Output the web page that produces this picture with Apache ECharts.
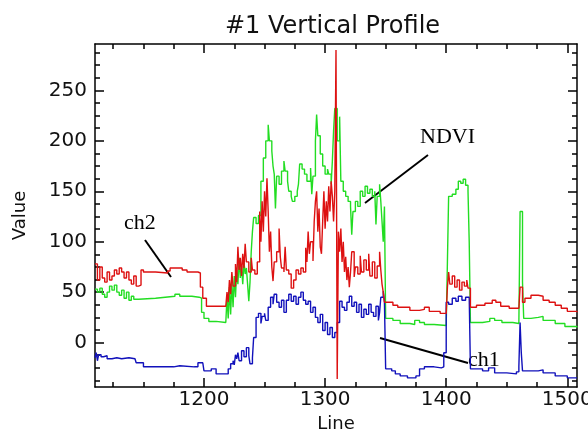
<!DOCTYPE html>
<html>
<head>
<meta charset="utf-8">
<title>#1 Vertical Profile</title>
<script src="https://cdn.jsdelivr.net/npm/echarts@6/dist/echarts.min.js"></script>
<style>
  html, body { margin: 0; padding: 0; background: #fff; }
  #chart { width: 588px; height: 429px; }
</style>
</head>
<body>
<div id="chart"></div>
<script>
// 刻度
const xMajorTicks = [1200, 1300, 1400, 1500];
const xMinorTicks = [1125, 1150, 1175, 1225, 1250, 1275, 1325, 1350, 1375, 1425, 1450, 1475];
const yMajorTicks = [0, 50, 100, 150, 200, 250];
const yMinorTicks = [-37.5, -25, -12.5, 12.5, 25, 37.5, 62.5, 75, 87.5, 112.5, 125, 137.5,
  162.5, 175, 187.5, 212.5, 225, 237.5, 262.5, 275, 287.5];

// ch2 (红)
const ch2Line = [1110,1112,1114,1116,1118,1120,1122,1124,1126,1128,1130,1132,1134,1136,1138,1140,1142,1144,1146,1148,1150,1160,1170,1172,1182,1186,1195,1197,1199,1202,
  1218,1219,1220,1221,1222,1223,1224,1226,1227,1228,1229,1230,1231,1232,1233,1234,1235,1237,1239,1240,1242,1244,1246,1247,1248,1249,1250,1251,1252,1253,1254,1255,1256,1257,1258,1260,1262,1263,1264,1266,1267,1268,1270,1272,1274,1276,1278,1280,1282,1284,1285,1286,1287,1288,1290,1291,1292,1293,1294,1295,1296,1297,1298,1299,1300,1301,1302,1303,1304,1305,1306,1307,1308,1309,1310,
  1311,1312,1313,1314,1315,1316,1317,1318,1319,1320,1321,1322,1324,1325,1327,1329,1330,1332,1334,1336,1337,1339,1341,1343,1345,1346,1347,1348,1349,1356,1360,1370,1378,1382,1386,1395,1400,
  1401,1402,1403,1405,1407,1409,1411,1413,1415,1417,1418,1420,1425,1432,1438,1441,1445,1452,1460,1461,1463,1465,1470,1476,1480,1485,1490,1495,1500,1508];
const ch2Value = [78,62,75,64,60,70,62,66,72,68,74,70,64,70,62,58,66,56,57,72,70,69,71,74,72,70,69,55,44,36,
  36,50,40,62,48,70,56,78,60,95,72,84,66,88,74,98,80,70,84,72,68,80,130,100,140,110,150,125,163,130,90,110,75,61,80,90,113,85,74,70,95,72,68,54,62,72,68,74,70,94,80,110,88,100,81,120,140,150,110,133,95,88,120,150,113,140,120,155,130,160,145,120,150,290,-36,
  110,90,113,80,100,70,85,62,75,55,70,90,65,75,68,86,70,82,72,88,66,80,64,76,90,72,58,50,40,37,35,32,33,35,31,29,30,
  55,70,58,66,55,62,52,60,56,62,54,35,37,39,42,40,36,34,35,55,40,44,47,46,42,40,37,34,31,30];

// NDVI (绿)
const ndviLine = [1110,1112,1114,1116,1118,1120,1122,1124,1126,1128,1130,1132,1134,1136,1138,1140,1142,1146,1160,1168,1176,1180,1190,1196,1198,1200,1204,1210,
  1218,1219,1220,1221,1222,1223,1224,1225,1226,1227,1228,1229,1230,1231,1232,1233,1234,1235,1236,1237,1238,1239,1240,1241,1243,1245,1247,1249,1251,1253,1254,1256,1257,1258,1259,1260,1262,1264,1266,1267,1269,1270,1272,1273,1275,1277,1278,1279,1281,1283,1285,1288,1289,1290,1292,1293,1294,1296,1298,1300,1302,1303,1305,1306,1307,1308,1310,1312,
  1313,1315,1317,1319,1321,1322,1323,1325,1327,1329,1331,1333,1335,1337,1339,1341,1342,1343,1345,1346,1347,1348,1349,1350,1356,1362,1370,1374,1378,1382,1390,1400,
  1401,1402,1405,1408,1410,1412,1414,1416,1418,1419,1420,1430,1436,1440,1446,1455,1460,1461,1463,1464,1470,1476,1480,1490,1498,1508];
const ndviValue = [53,50,54,48,45,50,56,52,57,50,47,52,44,50,42,46,43,44,45,46,48,46,45,44,30,24,21,20,
  21,45,24,55,28,60,35,66,45,72,58,84,64,76,58,80,68,74,58,41,60,90,110,124,118,126,160,183,200,216,200,190,175,167,133,165,157,170,180,170,160,150,145,140,145,150,157,177,172,167,160,173,147,165,200,226,205,187,175,167,172,167,157,180,210,232,200,224,
  160,150,145,140,135,107,130,140,135,150,145,155,148,152,145,150,117,145,157,140,120,100,135,24,22,19,18,22,20,18,17,17,
  80,145,147,152,160,158,162,156,150,100,20,21,24,22,20,19,19,130,60,24,25,26,22,19,16,15];

// ch1 (蓝)
const ch1Line = [1110,1111,1112,1113,1115,1117,1120,1124,1128,1132,1138,1143,1144,1150,1170,1175,1180,1192,1195,1199,1200,1206,1210,1218,
  1220,1222,1224,1225,1226,1227,1228,1229,1231,1233,1235,1237,1238,1240,1241,1243,1245,1247,1248,1250,1251,1253,1255,1257,1258,1260,1262,1264,1266,1268,1270,1272,1274,1276,1278,1280,1282,1284,1286,1288,1290,1292,1294,1296,1298,1300,1302,1304,1306,1308,1310,
  1312,1314,1316,1318,1320,1322,1324,1326,1328,1330,1332,1334,1336,1338,1340,1342,1344,1345,1346,1348,1349,1350,1355,1358,1362,1368,1375,1378,1382,1390,1396,1398,
  1400,1402,1405,1408,1410,1413,1416,1419,1420,1430,1435,1440,1450,1458,1460,1461,1462,1463,1470,1476,1480,1490,1500,1508];
const ch1Value = [-15,-10,-18,-12,-14,-13,-16,-15,-16,-15,-16,-16,-20,-24,-24,-23,-24,-24,-20,-20,-28,-26,-31,-31,
  -26,-21,-18,-22,-12,-16,-10,-18,-8,-14,-5,-13,-21,-15,5,25,29,19,26,29,22,35,45,38,48,40,35,42,30,42,48,41,46,38,45,50,42,38,41,30,35,25,20,28,12,20,8,15,5,10,20,
  41,35,32,40,46,36,40,30,38,25,33,28,38,30,26,36,22,30,45,51,40,-26,-28,-31,-33,-35,-33,-26,-24,-25,-24,-10,
  40,38,44,41,46,42,45,44,-26,-28,-25,-30,-31,-29,-24,20,-10,-28,-28,-27,-30,-33,-35,-35];

const zip = (xs, ys) => xs.map((x, i) => [x, ys[i]]);

const chart = echarts.init(document.getElementById('chart'));

// 两个重叠的 grid：一个画主刻度，一个画次刻度
const gridBox = { left: 95, right: 11, top: 44, bottom: 42, outerBoundsMode: 'none', containLabel: false };
const axisFont = { fontFamily: 'DejaVu Sans', fontSize: 20, color: '#111' };
const lineStyle = { color: '#000', width: 1.5 };

const makeAxis = (pos, gridIndex, min, max, ticks, len, showLine, labels) => ({
  type: 'value',
  gridIndex: gridIndex,
  position: pos,
  min: min,
  max: max,
  axisLine: { show: showLine, onZero: false, lineStyle: lineStyle },
  axisTick: { show: true, inside: true, length: len, customValues: ticks, lineStyle: lineStyle },
  axisLabel: labels
    ? Object.assign({ customValues: labels, formatter: (v) => String(v), hideOverlap: false }, axisFont)
    : { show: false },
  splitLine: { show: false }
});

const xMin = 1110, xMax = 1508, yMin = -44, yMax = 296;

const xBottom = makeAxis('bottom', 0, xMin, xMax, xMajorTicks, 9, true, xMajorTicks);
xBottom.axisLabel.margin = 3;
xBottom.name = 'Line';
xBottom.nameLocation = 'middle';
xBottom.nameGap = 21;
xBottom.nameTextStyle = { fontFamily: 'DejaVu Sans', fontSize: 18, color: '#111' };

const yLeft = makeAxis('left', 0, yMin, yMax, yMajorTicks, 9, true, yMajorTicks);
yLeft.axisLabel.margin = 8;
yLeft.name = 'Value';
yLeft.nameLocation = 'middle';
yLeft.nameGap = 66;
yLeft.nameTextStyle = { fontFamily: 'DejaVu Sans', fontSize: 18, color: '#111' };

const option = {
  backgroundColor: '#fff',
  animation: false,
  title: {
    text: '#1 Vertical Profile',
    left: 220,
    top: 10,
    textStyle: { fontFamily: 'DejaVu Sans', fontSize: 24, fontWeight: 'normal', color: '#111' }
  },
  grid: [Object.assign({}, gridBox), Object.assign({}, gridBox)],
  xAxis: [
    xBottom,
    makeAxis('top', 0, xMin, xMax, xMajorTicks, 9, true, null),
    makeAxis('bottom', 1, xMin, xMax, xMinorTicks, 5, false, null),
    makeAxis('top', 1, xMin, xMax, xMinorTicks, 5, false, null)
  ],
  yAxis: [
    yLeft,
    makeAxis('right', 0, yMin, yMax, yMajorTicks, 9, true, null),
    makeAxis('left', 1, yMin, yMax, yMinorTicks, 5, false, null),
    makeAxis('right', 1, yMin, yMax, yMinorTicks, 5, false, null)
  ],
  series: [
    {
      name: 'NDVI', type: 'line', step: 'end', showSymbol: false,
      xAxisIndex: 0, yAxisIndex: 0,
      data: zip(ndviLine, ndviValue),
      lineStyle: { color: '#22dd22', width: 1.4 }
    },
    {
      name: 'ch1', type: 'line', step: 'end', showSymbol: false,
      xAxisIndex: 0, yAxisIndex: 0,
      data: zip(ch1Line, ch1Value),
      lineStyle: { color: '#1111bb', width: 1.4 }
    },
    {
      name: 'ch2', type: 'line', step: 'end', showSymbol: false,
      xAxisIndex: 0, yAxisIndex: 0,
      data: zip(ch2Line, ch2Value),
      lineStyle: { color: '#dd1111', width: 1.4 }
    }
  ],
  // 标注文字和指示线
  graphic: [
    { type: 'text', left: 124, top: 212, style: { text: 'ch2', font: '22px "Liberation Serif"', fill: '#000' } },
    { type: 'line', shape: { x1: 145, y1: 240, x2: 171, y2: 277 }, style: { stroke: '#000', lineWidth: 2 } },
    { type: 'text', left: 420, top: 126, style: { text: 'NDVI', font: '22px "Liberation Serif"', fill: '#000' } },
    { type: 'line', shape: { x1: 428, y1: 155, x2: 365, y2: 203 }, style: { stroke: '#000', lineWidth: 2 } },
    { type: 'text', left: 468, top: 349, style: { text: 'ch1', font: '22px "Liberation Serif"', fill: '#000' } },
    { type: 'line', shape: { x1: 380, y1: 338, x2: 468, y2: 363 }, style: { stroke: '#000', lineWidth: 2 } }
  ]
};

chart.setOption(option);
</script>
</body>
</html>
